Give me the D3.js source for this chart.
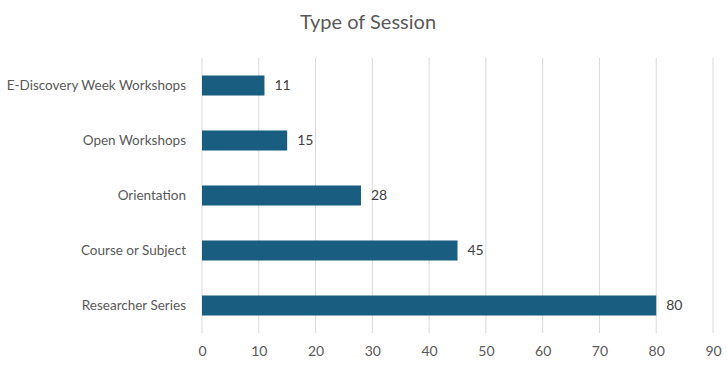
<!DOCTYPE html>
<html>
<head>
    <meta charset="utf-8">
    <script src="https://d3js.org/d3.v7.min.js"></script>
    <style>
        body { margin: 0; background: #fff; }
        text { font-family: Lato, "Open Sans", sans-serif; }
    </style>
</head>
<body>
    <svg id="chart"></svg>
    <script>
        // chart data
        var categories = ["E-Discovery Week Workshops", "Open Workshops", "Orientation", "Course or Subject", "Researcher Series"];
        var values = [11, 15, 28, 45, 80];
        var tickValues = [0, 10, 20, 30, 40, 50, 60, 70, 80, 90];

        var width = 727, height = 367;
        var margin = { top: 58, right: 14, bottom: 34, left: 202 };

        var svg = d3.select("#chart")
            .attr("width", width)
            .attr("height", height);

        var x = d3.scaleLinear()
            .domain([0, 90])
            .range([margin.left, width - margin.right]);

        var y = d3.scaleBand()
            .domain(categories)
            .range([margin.top, height - margin.bottom])
            .paddingInner(0.636)
            .paddingOuter(0.318);

        // title
        svg.append("text")
            .attr("x", 368)
            .attr("y", 29)
            .attr("text-anchor", "middle")
            .style("font-size", "20px")
            .style("fill", "#595959")
            .text("Type of Session");

        // gridlines
        svg.append("g")
            .selectAll("line")
            .data(tickValues)
            .join("line")
            .attr("x1", d => x(d)).attr("x2", d => x(d))
            .attr("y1", margin.top).attr("y2", height - margin.bottom)
            .style("stroke", "#d9d9d9")
            .style("stroke-width", 1);

        // x axis labels
        var xAxis = svg.append("g")
            .attr("transform", "translate(0," + (height - margin.bottom) + ")")
            .call(d3.axisBottom(x).tickValues(tickValues).tickSize(0).tickPadding(13));
        xAxis.select(".domain").remove();
        xAxis.selectAll("text")
            .style("font-size", "14px")
            .style("fill", "#595959")
            .style("font-family", "Lato, 'Open Sans', sans-serif");

        // y axis labels
        var yAxis = svg.append("g")
            .attr("transform", "translate(" + margin.left + ",0)")
            .call(d3.axisLeft(y).tickSize(0).tickPadding(16));
        yAxis.select(".domain").remove();
        yAxis.selectAll("text")
            .style("font-size", "13.5px")
            .style("fill", "#595959")
            .style("font-family", "Lato, 'Open Sans', sans-serif");

        // bars
        svg.append("g")
            .selectAll("rect")
            .data(values)
            .join("rect")
            .attr("x", x(0))
            .attr("y", (d, i) => y(categories[i]))
            .attr("width", d => x(d) - x(0))
            .attr("height", y.bandwidth())
            .style("fill", "#195e80");

        // value labels
        svg.append("g")
            .selectAll("text")
            .data(values)
            .join("text")
            .attr("x", d => x(d) + 10)
            .attr("y", (d, i) => y(categories[i]) + y.bandwidth() / 2)
            .attr("dy", "0.35em")
            .style("font-size", "14px")
            .style("fill", "#404040")
            .text(d => d);
    </script>
</body>
</html>
